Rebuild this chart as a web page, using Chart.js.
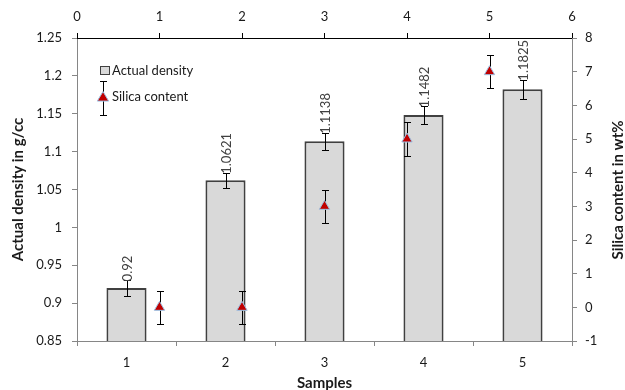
<!DOCTYPE html>
<html><head><meta charset="utf-8">
<script src="https://cdn.jsdelivr.net/npm/chart.js@4/dist/chart.umd.min.js"></script>
<style>html,body{margin:0;padding:0;background:#fff;}#wrap{width:625px;height:390px;}</style>
</head><body><div id="wrap"><canvas id="c" width="625" height="390"></canvas></div>
<script>
// ---- data ----
const samples = ['1', '2', '3', '4', '5'];
const density = [0.92, 1.0621, 1.1138, 1.1482, 1.1825];
const densityErr = [0.01, 0.01, 0.011, 0.0115, 0.0125];
const densityLabels = ['0.92', '1.0621', '1.1138', '1.1482', '1.1825'];
const silicaX = [1, 2, 3, 4, 5];
const silica = [0, 0, 3, 5, 7];
const silicaErr = [0.5, 0.5, 0.5, 0.5, 0.5];
const densityTicks = [0.85, 0.9, 0.95, 1, 1.05, 1.1, 1.15, 1.2, 1.25];
const densityTickLabels = ['0.85', '0.9', '0.95', '1', '1.05', '1.1', '1.15', '1.2', '1.25'];
const silicaTicks = [-1, 0, 1, 2, 3, 4, 5, 6, 7, 8];
const topTicks = [0, 1, 2, 3, 4, 5, 6];
const seriesNames = ['Actual density', 'Silica content'];
const axisTitles = {left: 'Actual density in g/cc', right: 'Silica content in wt%', bottom: 'Samples'};

const FONT = 'Lato';
const TICK_FONT = {family: FONT, size: 13};
const TXT = '#1a1a1a';
const AXIS = '#868686';

function fixTicks(arr) {
  return function (scale) { scale.ticks = arr.map(v => ({value: v})); };
}

function drawTri(ctx, x, y, r, fill, stroke) {
  ctx.save();
  ctx.beginPath();
  ctx.moveTo(x, y - r);
  ctx.lineTo(x + r * 0.95, y + r * 0.6);
  ctx.lineTo(x - r * 0.95, y + r * 0.6);
  ctx.closePath();
  ctx.fillStyle = fill; ctx.fill();
  ctx.lineWidth = 1; ctx.strokeStyle = stroke; ctx.stroke();
  ctx.restore();
}

function errBar(ctx, x, yTop, yBot, cap) {
  ctx.beginPath();
  ctx.moveTo(x, yTop); ctx.lineTo(x, yBot);
  ctx.moveTo(x - cap, yTop); ctx.lineTo(x + cap, yTop);
  ctx.moveTo(x - cap, yBot); ctx.lineTo(x + cap, yBot);
  ctx.stroke();
}

const extras = {
  id: 'extras',
  afterDatasetDraw(chart, args) {
    const ctx = chart.ctx;
    if (args.index === 0) {
      const meta = chart.getDatasetMeta(0);
      const y = chart.scales.y;
      ctx.save();
      ctx.strokeStyle = '#000'; ctx.lineWidth = 1;
      meta.data.forEach((bar, i) => {
        const x = Math.round(bar.x) + 0.5;
        const yt = y.getPixelForValue(density[i] + densityErr[i]);
        const yb = y.getPixelForValue(density[i] - densityErr[i]);
        errBar(ctx, x, Math.round(yt) + 0.5, Math.round(yb) + 0.5, 3.5);
        ctx.save();
        ctx.translate(bar.x + 1, yt + 1);
        ctx.rotate(-Math.PI / 2);
        ctx.font = '13px ' + FONT;
        ctx.fillStyle = '#404040';
        ctx.textAlign = 'left';
        ctx.textBaseline = 'middle';
        ctx.fillText(densityLabels[i], 0, 0);
        ctx.restore();
      });
      ctx.restore();
    }
  },
  beforeDatasetDraw(chart, args) {
    if (args.index === 1) {
      const ctx = chart.ctx;
      const xs = chart.scales.xTop, ys = chart.scales.y2;
      ctx.save();
      ctx.strokeStyle = '#000'; ctx.lineWidth = 1;
      silicaX.forEach((sx, i) => {
        const x = Math.round(xs.getPixelForValue(sx)) + 0.5;
        const yt = Math.round(ys.getPixelForValue(silica[i] + silicaErr[i])) + 0.5;
        const yb = Math.round(ys.getPixelForValue(silica[i] - silicaErr[i])) + 0.5;
        errBar(ctx, x, yt, yb, 3.5);
      });
      ctx.restore();
    }
  },
  afterDraw(chart) {
    const ctx = chart.ctx;
    ctx.save();
    // legend
    ctx.fillStyle = '#d9d9d9';
    ctx.fillRect(100.5, 66.5, 9, 8);
    ctx.strokeStyle = '#404040'; ctx.lineWidth = 1;
    ctx.strokeRect(100.5, 66.5, 9, 8);
    ctx.font = '13px ' + FONT;
    ctx.fillStyle = TXT;
    ctx.textAlign = 'left'; ctx.textBaseline = 'middle';
    ctx.fillText(seriesNames[0], 112, 70.5);
    ctx.strokeStyle = '#000';
    errBar(ctx, 103.5, 81.5, 115.5, 3.5);
    drawTri(ctx, 103, 97.5, 6, '#c00000', '#9dc3e6');
    ctx.fillStyle = TXT;
    ctx.fillText(seriesNames[1], 112, 96.5);
    // axis titles
    ctx.font = 'bold 15px ' + FONT;
    ctx.textAlign = 'center'; ctx.textBaseline = 'middle';
    ctx.save(); ctx.translate(18, 189.5); ctx.rotate(-Math.PI / 2);
    ctx.fillText(axisTitles.left, 0, 0); ctx.restore();
    ctx.save(); ctx.translate(618, 190); ctx.rotate(-Math.PI / 2);
    ctx.fillText(axisTitles.right, 0, 0); ctx.restore();
    ctx.fillText(axisTitles.bottom, 324.5, 383);
    ctx.restore();
  }
};

new Chart(document.getElementById('c'), {
  type: 'bar',
  data: {
    labels: samples,
    datasets: [
      {
        type: 'bar', label: seriesNames[0], data: density,
        xAxisID: 'x', yAxisID: 'y', order: 1, grouped: false,
        backgroundColor: '#d9d9d9', borderColor: '#404040', borderWidth: 2,
        barPercentage: 0.405, categoryPercentage: 1
      },
      {
        type: 'line', label: seriesNames[1],
        data: silicaX.map((x, i) => ({x: x, y: silica[i]})),
        xAxisID: 'xTop', yAxisID: 'y2', order: 0, showLine: false,
        pointStyle: 'triangle', pointRadius: 6, pointHoverRadius: 6,
        backgroundColor: '#c00000', borderColor: '#9dc3e6', pointBorderWidth: 1
      }
    ]
  },
  options: {
    responsive: false, animation: false, devicePixelRatio: 1,
    layout: {padding: 0},
    plugins: {legend: {display: false}, tooltip: {enabled: false}},
    scales: {
      x: {
        type: 'category', position: 'bottom', offset: true,
        grid: {display: true, drawOnChartArea: false, offset: true, tickLength: 5, color: AXIS},
        border: {color: AXIS, width: 1},
        ticks: {font: TICK_FONT, color: TXT, padding: 9},
        afterFit(s) { s.height = 49; }
      },
      y: {
        type: 'linear', position: 'left', min: 0.85, max: 1.25,
        afterBuildTicks: fixTicks(densityTicks),
        grid: {display: true, drawOnChartArea: false, tickLength: 5, color: AXIS},
        border: {color: AXIS, width: 1},
        ticks: {font: TICK_FONT, color: TXT, padding: 10, callback: (v, i) => densityTickLabels[i]},
        afterFit(s) { s.width = 77; }
      },
      xTop: {
        type: 'linear', position: 'top', min: 0, max: 6, offset: false,
        afterBuildTicks: fixTicks(topTicks),
        grid: {display: true, drawOnChartArea: false, offset: false, tickLength: 5, color: '#000'},
        border: {color: '#000', width: 1},
        ticks: {font: TICK_FONT, color: TXT, padding: 8, callback: (v, i) => String(topTicks[i])},
        afterFit(s) { s.height = 38; }
      },
      y2: {
        type: 'linear', position: 'right', min: -1, max: 8,
        afterBuildTicks: fixTicks(silicaTicks),
        grid: {display: true, drawOnChartArea: false, tickLength: 5, color: AXIS},
        border: {color: AXIS, width: 1},
        ticks: {font: TICK_FONT, color: TXT, padding: 8, callback: (v, i) => String(silicaTicks[i])},
        afterFit(s) { s.width = 53; }
      }
    }
  },
  plugins: [extras]
});
</script>
</body></html>
